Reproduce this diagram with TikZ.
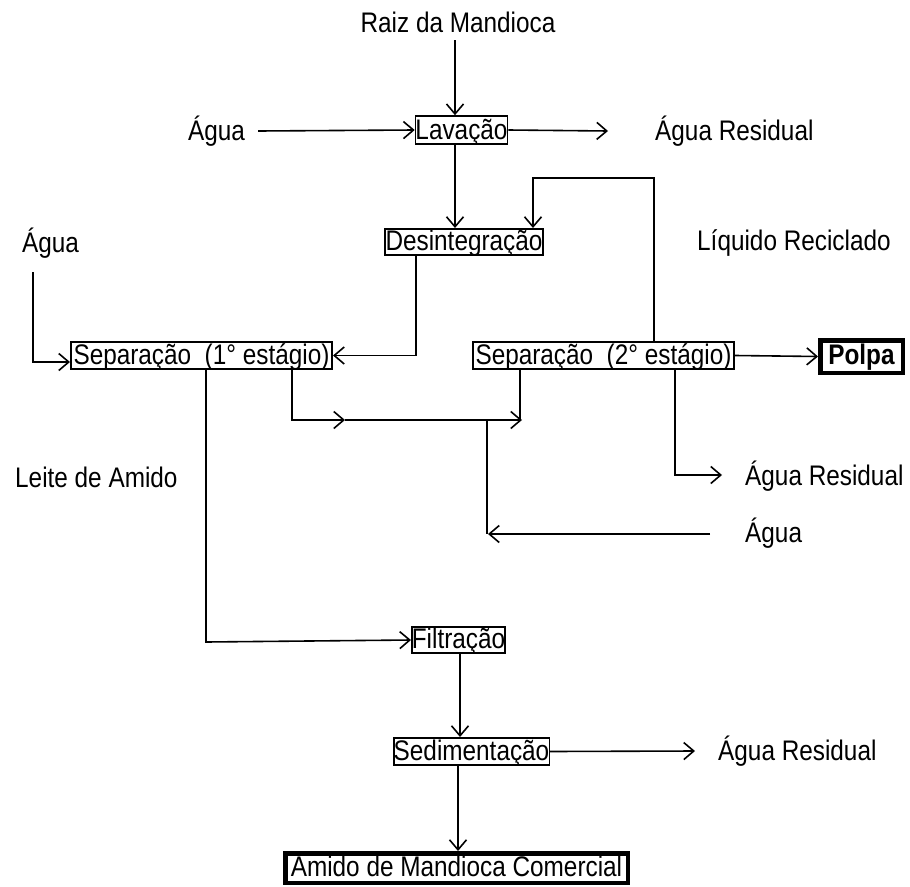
\documentclass[tikz,border=0pt]{standalone}
\usepackage{fontspec}
\setmainfont{Liberation Sans}[FakeStretch=0.86]
\usetikzlibrary{arrows.meta}
\begin{document}
\begin{tikzpicture}[x=1pt,y=-1pt,
  every node/.style={font=\fontsize{28.3}{32}\selectfont, inner sep=0pt},
  txt/.style={anchor=west},
  box/.style={draw, line width=1.6pt, align=center, text height=22.4pt, text depth=5pt},
  thickbox/.style={draw, line width=4.5pt, align=center},
  flow/.style={line width=1.6pt, -{Straight Barb[length=10pt,width=17pt,line width=1.6pt]}},
  plain/.style={line width=1.6pt}]
\useasboundingbox (0,0) rectangle (910,886);
% text labels
\node (raiz) at (458,22) {Raiz da Mandioca};
\node[txt] (agua1) at (188,131) {Água};
\node[txt] (ar1) at (655,131) {Água Residual};
\node[txt] (agua2) at (22,243) {Água};
\node[txt] (liq) at (697,243) {Líquido Reciclado};
\node[txt] (leite) at (15,477) {Leite de Amido};
\node[txt] (ar2) at (745,476) {Água Residual};
\node[txt] (agua3) at (745,533) {Água};
\node[txt] (ar3) at (718,751) {Água Residual};
% boxes
\node[box, minimum width=91.4, text height=23pt] (lav) at (461.5,130) {Lavação};
\node[box, minimum width=158.4, text height=21.4pt] (des) at (464,242) {Desintegração};
\node[box, minimum width=261.4] (sep1) at (201.5,355.5) {Separação\ \ (1° estágio)};
\node[box, minimum width=261.4] (sep2) at (603.5,355.5) {Separação\ \ (2° estágio)};
\node[thickbox, minimum width=82.5, text height=24.5pt, text depth=8pt, font=\fontsize{28.3}{32}\selectfont\bfseries] (polpa) at (861.5,356.5) {Polpa};
\node[box, minimum width=93.4, text height=21.4pt] (filt) at (458.5,640) {Filtração};
\node[box, minimum width=155.4] (sed) at (471.5,751.5) {Sedimentação};
\node[thickbox, minimum width=342.5, text height=23pt, text depth=6.5pt] (amido) at (456.5,868) {Amido\ de\ Mandioca\ Comercial};
% connectors
\coordinate (raizout) at (455,40);
\draw[flow] (raizout) -- (lav.north -| raizout);
\draw[flow] ([xshift=13pt]agua1.east) -- (lav.west);
\draw[flow] (lav.east) -- ([xshift=-47pt]ar1.west);
\draw[flow] (lav.south -| 455,0) -- (des.north -| 455,0);
\draw[flow] (sep2.north -| 654,0) -- (654,178) -- (533,178) -- (des.north -| 533,0);
\coordinate (a2top) at (33,272);
\draw[flow] (a2top) -- (33,362) -- (sep1.west |- 0,362);
\draw[flow] (des.south -| 416,0) -- (416,355.5) -- (sep1.east);
\draw[flow] (sep2.east) -- (polpa.west);
\draw[flow] (sep1.south -| 206,0) -- (206,642) -- (filt.west);
\coordinate (mid) at (345,420);
\coordinate (join) at (522,420);
\draw[flow] (sep1.south -| 292,0) -- (292,420) -- (mid);
\draw[flow] (mid) -- (join);
\draw[plain] (sep2.south -| 520,0) -- (520,420);
\coordinate (a3start) at (710,534);
\draw[plain] (487,420) -- (487,534);
\draw[flow] (a3start) -- (488,534);
\coordinate (ar2tip) at (722,475);
\draw[flow] (sep2.south -| 675,0) -- (675,475) -- (ar2tip);
\draw[flow] (filt.south -| 460,0) -- (sed.north -| 460,0);
\coordinate (ar3tip) at (695,751);
\draw[flow] (sed.east) -- (ar3tip);
\draw[flow] (sed.south -| 458,0) -- (amido.north -| 458,0);
\end{tikzpicture}
\end{document}
